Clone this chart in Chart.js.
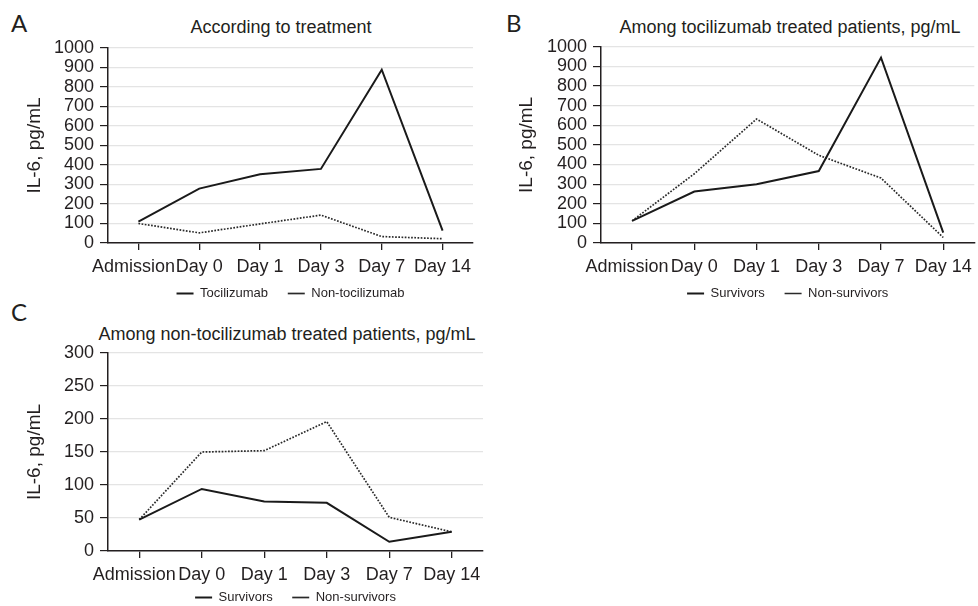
<!DOCTYPE html>
<html>
<head>
<meta charset="utf-8">
<script src="https://cdn.jsdelivr.net/npm/chart.js@4.4.0/dist/chart.umd.min.js"></script>
<style>
  html, body { margin: 0; padding: 0; background: #fff; }
  body { width: 978px; height: 606px; position: relative; overflow: hidden; font-family: "Liberation Sans", Arial, sans-serif; color: #231f20; }
  .cv { position: absolute; }
  .title { position: absolute; width: 600px; text-align: center; font-size: 18px; line-height: 22px; white-space: nowrap; color: #231f20; }
  .letter { position: absolute; font-family: Lato, "Open Sans", sans-serif; font-size: 24px; line-height: 24px; color: #231f20; }
</style>
</head>
<body>
<div class="letter" style="left:11px; top:11px;">A</div>
<div class="letter" style="left:506px; top:11px;">B</div>
<div class="letter" style="left:11px; top:300px;">C</div>
<div class="title" style="left:-19px; top:16px;">According to treatment</div>
<div class="title" style="left:490px; top:16px;">Among tocilizumab treated patients, pg/mL</div>
<div class="title" style="left:-13px; top:323px;">Among non-tocilizumab treated patients, pg/mL</div>

<div class="cv" style="left:0px; top:30px; width:490px; height:280px;"><canvas id="cA"></canvas></div>
<div class="cv" style="left:490px; top:30px; width:488px; height:280px;"><canvas id="cB"></canvas></div>
<div class="cv" style="left:0px; top:330px; width:490px; height:284px;"><canvas id="cC"></canvas></div>

<script>
// ---- data ----
const categories = ['Admission', 'Day 0', 'Day 1', 'Day 3', 'Day 7', 'Day 14'];

const tocilizumabA = [109, 279, 353, 380, 889, 63];
const nonTocilizumabA = [100, 52, 98, 143, 33, 22];

const survivorsB = [113, 262, 300, 367, 945, 53];
const nonSurvivorsB = [113, 353, 632, 447, 331, 28];

const survivorsC = [47.5, 94, 75, 73, 14, 29];
const nonSurvivorsC = [47.5, 150, 152, 196, 51, 29];

const yMaxAB = 1000, yStepAB = 100;
const yMaxC = 300, yStepC = 50;

// ---- chart builder ----
const FONT = '"Liberation Sans", Arial, sans-serif';
const TXT = '#231f20';

function makeChart(id, cfg) {
  const ctx = document.getElementById(id);
  return new Chart(ctx, {
    type: 'line',
    data: {
      labels: categories,
      datasets: [
        {
          label: cfg.names[0], data: cfg.solid,
          borderColor: '#1a1a1a', backgroundColor: '#1a1a1a',
          borderWidth: 2, pointRadius: 0, tension: 0, fill: false
        },
        {
          label: cfg.names[1], data: cfg.dotted,
          borderColor: '#2a2a2a', backgroundColor: '#2a2a2a',
          borderWidth: 1.7, borderDash: [1.7, 1.5], pointRadius: 0, tension: 0, fill: false
        }
      ]
    },
    options: {
      responsive: true,
      maintainAspectRatio: false,
      animation: false,
      events: [],
      layout: { padding: cfg.padding },
      plugins: {
        title: { display: false },
        tooltip: { enabled: false },
        legend: {
          display: true,
          position: 'bottom',
          fullSize: false,
          labels: {
            usePointStyle: true,
            pointStyle: 'line',
            pointStyleWidth: 17,
            boxHeight: 13,
            padding: cfg.legendPad,
            color: TXT,
            font: { family: FONT, size: 13 },
            generateLabels: (chart) => {
              const items = Chart.defaults.plugins.legend.labels.generateLabels(chart);
              items[0].text = items[0].text + cfg.gap;
              return items;
            }
          }
        }
      },
      scales: {
        x: {
          type: 'category',
          offset: true,
          afterFit: (s) => { s.height = cfg.xHeight; },
          grid: { display: true, drawOnChartArea: false, drawTicks: true, tickLength: 7, offset: false, color: '#231f20', tickColor: '#231f20', lineWidth: 1.3 },
          border: { display: true, color: '#231f20', width: 1.5 },
          ticks: {
            color: TXT, font: { family: FONT, size: 18 }, padding: 6,
            maxRotation: 0, minRotation: 0, autoSkip: false,
            callback: function (value, index) {
              const lbl = this.getLabelForValue(value);
              return index === 0 ? lbl + '  ' : lbl;
            }
          }
        },
        y: {
          min: 0, max: cfg.yMax,
          afterFit: (s) => { s.width = cfg.yWidth; },
          grid: { color: '#e4e4e4', lineWidth: 1.2, drawTicks: true, tickLength: 8, tickColor: '#231f20', tickWidth: 1.2 },
          border: { display: true, color: '#231f20', width: 1.5 },
          ticks: {
            stepSize: cfg.yStep, autoSkip: false, color: TXT, font: { family: FONT, size: 18 }, padding: 6,
            callback: (v) => String(v)
          },
          title: { display: true, text: 'IL-6, pg/mL', color: TXT, font: { family: FONT, size: 19 }, padding: { top: cfg.titlePad, bottom: 0 } }
        }
      }
    }
  });
}

makeChart('cA', {
  names: ['Tocilizumab', 'Non-tocilizumab'],
  solid: tocilizumabA, dotted: nonTocilizumabA,
  yMax: yMaxAB, yStep: yStepAB,
  padding: { top: 18, right: 17, bottom: 0, left: 0 },
  yWidth: 108, xHeight: 35, titlePad: 23, legendPad: 9, gap: '   '
});

makeChart('cB', {
  names: ['Survivors', 'Non-survivors'],
  solid: survivorsB, dotted: nonSurvivorsB,
  yMax: yMaxAB, yStep: yStepAB,
  padding: { top: 12, right: 3, bottom: 0, left: 0 },
  yWidth: 111, xHeight: 35, titlePad: 25, legendPad: 9, gap: '   '
});

makeChart('cC', {
  names: ['Survivors', 'Non-survivors'],
  solid: survivorsC, dotted: nonSurvivorsC,
  yMax: yMaxC, yStep: yStepC,
  padding: { top: 23, right: 7, bottom: 0, left: 0 },
  yWidth: 108, xHeight: 35, titlePad: 23, legendPad: 5, gap: '    '
});
</script>
</body>
</html>
